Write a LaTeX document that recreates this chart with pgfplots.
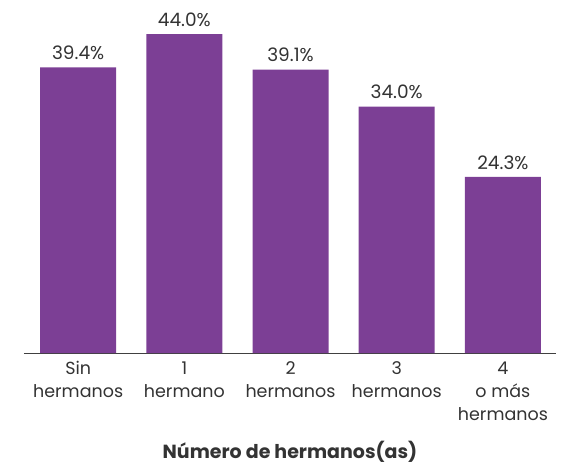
\documentclass[border=0pt]{standalone}
\usepackage{pgfplots}
\pgfplotsset{compat=1.18}
\usepackage{fontspec}
\setmainfont{Poppins}
\definecolor{barpurple}{HTML}{7C3F95}
\definecolor{txt}{HTML}{333333}
\begin{document}
\begin{tikzpicture}
\path (-24pt,-112pt) rectangle (547pt,353pt);
\begin{axis}[
  at={(0,0)}, anchor=south west,
  scale only axis,
  width=532pt, height=319pt,
  xmin=-0.51, xmax=4.5,
  ymin=0, ymax=44,
  clip=false,
  axis x line*=bottom,
  axis y line=none,
  x axis line style={draw=black!75, line width=0.8pt, -},
  xtick={0,1,2,3,4},
  xticklabels={Sin\\hermanos,1\\hermano,2\\hermanos,3\\hermanos,4\\o más\\hermanos},
  xticklabel style={align=center, font=\fontsize{17.5}{23}\selectfont, text=txt, yshift=-5pt},
  major tick length=0pt,
  xlabel={\textbf{Número de hermanos(as)}},
  xlabel style={font=\fontsize{19}{22}\selectfont, text=txt, yshift=-14pt},
  ybar, bar width=76pt, bar shift=0pt,
  point meta=explicit symbolic,
  nodes near coords,
  nodes near coords style={font=\fontsize{18.5}{22}\selectfont, text=txt, anchor=south, yshift=4pt},
]
\addplot[fill=barpurple, draw=none] table[meta=lab] {
x y lab
0 39.4 39.4\%
1 44.0 44.0\%
2 39.1 39.1\%
3 34.0 34.0\%
4 24.3 24.3\%
};
\end{axis}
\end{tikzpicture}
\end{document}
